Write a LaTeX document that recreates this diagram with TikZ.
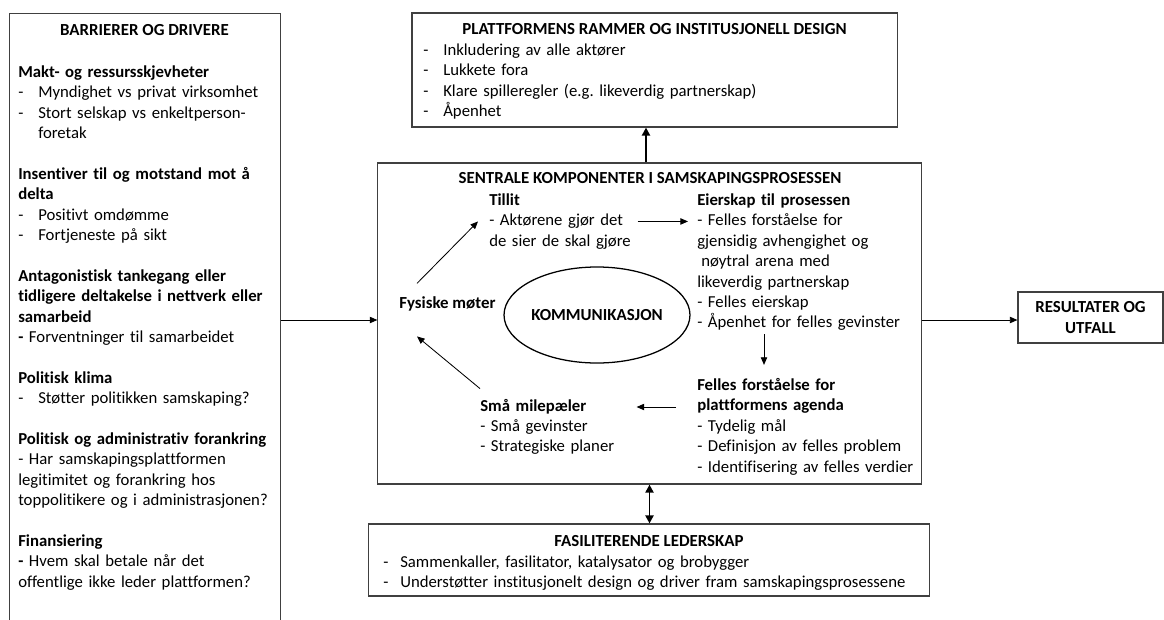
\documentclass[tikz,border=0pt]{standalone}
\usepackage{fontspec}
\setmainfont[Ligatures={NoCommon}]{Carlito}
\usetikzlibrary{shapes.geometric,positioning,arrows.meta}
\frenchspacing
\tikzset{
	boks/.style={rectangle, draw=black!75, line width=0.8pt, inner sep=0pt},
	tekst/.style={font=\fontsize{11.9}{14.5}\selectfont, inner sep=0pt, align=left},
	tittel/.style={font=\fontsize{12}{14.5}\selectfont\bfseries, inner sep=0pt},
	pil/.style={-{Triangle[length=1.9mm,width=1.6mm]}, line width=0.6pt},
	tykkpil/.style={-{Triangle[length=2mm,width=2mm]}, line width=1.4pt},
	tykkdobbel/.style={{Triangle[length=2mm,width=2mm]}-{Triangle[length=2mm,width=2mm]}, line width=1.4pt}
}
\newcommand{\punkt}[2][0.5cm]{\makebox[#1][l]{-}#2}

\begin{document}
\begin{tikzpicture}[x=0.025cm, y=-0.025cm]
	\useasboundingbox (0,0) rectangle (1164,619);
	\clip (0,0) rectangle (1164,619);

	\node[boks, anchor=north west, minimum width=6.775cm, minimum height=15.9cm] (barrierer) at (9,13) {};
	\node[tittel, anchor=base] (barrtittel) at (144.5,35.5) {BARRIERER OG DRIVERE};
	\node[tekst, anchor=base west, text width=6.6cm] (barrtekst) at (18,77.5) {\textbf{Makt- og ressursskjevheter}\\
		\punkt{Myndighet vs privat virksomhet}\\
		\punkt{Stort selskap vs enkeltperson-}\\
		\hspace*{0.5cm}foretak\\[14.5pt]
		\textbf{Insentiver til og motstand mot å}\\
		\textbf{delta}\\
		\punkt{Positivt omdømme}\\
		\punkt{Fortjeneste på sikt}\\[14.5pt]
		\textbf{Antagonistisk tankegang eller}\\
		\textbf{tidligere deltakelse i nettverk eller}\\
		\textbf{samarbeid}\\
		\textbf{-} Forventninger til samarbeidet\\[14.5pt]
		\textbf{Politisk klima}\\
		\punkt{Støtter politikken samskaping?}\\[14.5pt]
		\textbf{Politisk og administrativ forankring}\\
		- Har samskapingsplattformen\\
		legitimitet og forankring hos\\
		toppolitikere og i administrasjonen?\\[14.5pt]
		\textbf{Finansiering}\\
		\textbf{-} Hvem skal betale når det\\
		offentlige ikke leder plattformen?};

	\node[boks, minimum width=12.125cm, minimum height=2.85cm] (rammer) at (654.5,70) {};
	\node[tittel, anchor=base] (rammetittel) at (654.5,34.5) {PLATTFORMENS RAMMER OG INSTITUSJONELL DESIGN};
	\node[tekst, anchor=base west, text width=10cm] (rammetekst) at (423,55.5) {\punkt{Inkludering av alle aktører}\\
		\punkt{Lukkete fora}\\
		\punkt{Klare spilleregler (e.g. likeverdig partnerskap)}\\
		\punkt{Åpenhet}};

	\node[boks, minimum width=13.575cm, minimum height=8.025cm] (sentral) at (649.5,323.5) {};
	\node[tittel, anchor=base] (sentraltittel) at (650,183.5) {SENTRALE KOMPONENTER I SAMSKAPINGSPROSESSEN};
	\node[ellipse, draw, line width=0.9pt, minimum width=4.25cm, minimum height=2.4cm, inner sep=0pt, tittel] (komm) at (597,315) {KOMMUNIKASJON};
	\node[tekst, anchor=base west, text width=3.8cm] (tillit) at (489,205.5) {\textbf{Tillit}\\
		- Aktørene gjør det\\
		de sier de skal gjøre};
	\node[tekst, anchor=base west, text width=5.6cm] (eierskap) at (697,205.5) {\textbf{Eierskap til prosessen}\\
		- Felles forståelse for\\
		gjensidig avhengighet og\\
		\hspace*{0.1cm}nøytral arena med\\
		likeverdig partnerskap\\
		- Felles eierskap\\
		- Åpenhet for felles gevinster};
	\node[tekst, anchor=base west, text width=5.6cm] (felles) at (697,390.5) {\textbf{Felles forståelse for}\\
		\textbf{plattformens agenda}\\
		- Tydelig mål\\
		- Definisjon av felles problem\\
		- Identifisering av felles verdier};
	\node[tekst, anchor=base west, text width=3.8cm] (smaa) at (480,411) {\textbf{Små milepæler}\\
		- Små gevinster\\
		- Strategiske planer};
	\node[tittel, anchor=base west] (fysisk) at (399,308.5) {Fysiske møter};

	\node[boks, minimum width=14cm, minimum height=1.8cm] (leder) at (649,560) {};
	\node[tittel, anchor=base] (ledertittel) at (649,546.5) {FASILITERENDE LEDERSKAP};
	\node[tekst, anchor=base west, text width=13.5cm] (ledertekst) at (383,567.5) {\punkt[0.425cm]{Sammenkaller, fasilitator, katalysator og brobygger}\\
		\punkt[0.425cm]{Understøtter institusjonelt design og driver fram samskapingsprosessene}};

	\node[boks, tittel, align=center, minimum width=3.625cm, minimum height=1.275cm] (resultat) at (1090.5,317.5) {RESULTATER OG\\UTFALL};

	\coordinate (midt) at (0,320);
	\coordinate (opp) at (646,0);
	\coordinate (ned) at (764,0);
	\coordinate (venstre) at (0,407);

	\draw[pil] (barrierer.east |- midt) -- (sentral.west |- midt);
	\draw[pil] (sentral.east |- midt) -- (resultat.west |- midt);
	\draw[tykkpil] (sentral.north -| opp) -- (rammer.south -| opp);
	\draw[tykkdobbel] (sentral.south) -- (sentral.south |- leder.north);

	\draw[pil, shorten >=0.225cm] ([xshift=-0.1cm]tillit.east) -- (tillit.east -| eierskap.west);
	\draw[pil, shorten <=0.08cm, shorten >=0.33cm] (eierskap.south -| ned) -- (felles.north -| ned);
	\draw[pil, shorten <=0.525cm, shorten >=0.1cm] (felles.west |- venstre) -- (smaa.east |- venstre);
	\draw[pil] ([yshift=0.25cm]smaa.north west) -- ([xshift=0.45cm,yshift=-0.625cm]fysisk.south west);
	\draw[pil] ([xshift=0.45cm,yshift=0.325cm]fysisk.north west) -- ([xshift=-0.275cm]tillit.west);
\end{tikzpicture}
\end{document}
